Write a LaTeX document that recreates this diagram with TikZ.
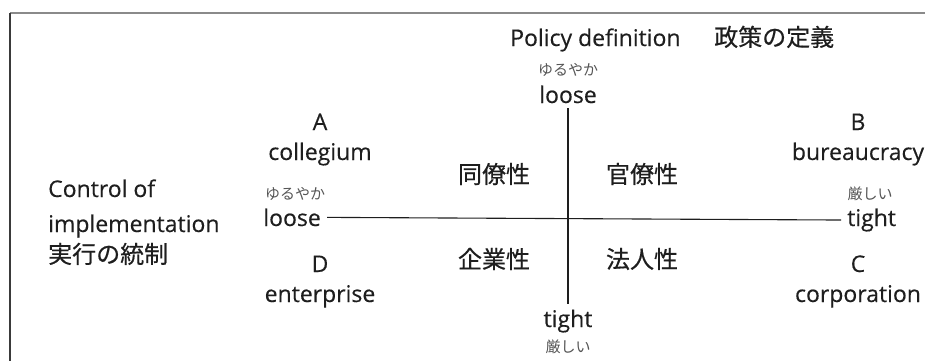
\documentclass[tikz,border=0pt]{standalone}
\usepackage{fontspec}
\setmainfont[FakeBold=0.3]{Open Sans}
\newfontfamily\jp{Noto Sans CJK JP}
\newfontfamily\jpm[FakeBold=0.5]{Noto Sans CJK JP}
\definecolor{txt}{HTML}{1E1E1E}
\definecolor{kanagray}{HTML}{555555}
\definecolor{topline}{HTML}{8A8A8A}
\definecolor{leftline}{HTML}{3A3A3A}
\begin{document}
\begin{tikzpicture}[x=1pt,y=-1pt,
  every node/.style={inner sep=0pt, text=txt},
  lat/.style={font=\fontsize{23}{27}\selectfont},
  cjk/.style={font=\jpm\fontsize{24}{28}\selectfont},
  kana/.style={font=\jp\fontsize{15}{18}\selectfont, text=kanagray},
  axis/.style={draw=txt, line width=1.1pt}]
\useasboundingbox (0,0) rectangle (925,361);
% frame
\draw[topline, line width=1.5pt] (10,13) -- (925,13);
\draw[leftline, line width=1.5pt] (10,13) -- (10,361);
% title
\node[lat, anchor=base west] (pol) at (510,46) {Policy definition};
\node[cjk, anchor=base west] (polj) at (714,46) {政策の定義};
% top
\node[kana] (tk) at (568,70) {ゆるやか};
\node[lat, anchor=base] (tl) at (568,103) {loose};
% bottom
\node[lat, anchor=base] (bt) at (568,327) {tight};
\node[kana] (bk) at (568,347) {厳しい};
% left
\node[lat, anchor=base east] (ll) at (321,226) {loose};
\node[kana] (lk) at (295,194) {ゆるやか};
% right
\node[lat, anchor=base west] (rt) at (847,226) {tight};
\node[kana] (rk) at (870,194) {厳しい};
% axes
\draw[axis] ([yshift=-5pt]tl.south) -- ([yshift=5pt]bt.north);
\draw[axis] ([xshift=6pt]ll.east) -- ([xshift=-6pt]rt.west);
% corners
\node[lat, anchor=base] (a) at (320,130) {A};
\node[lat, anchor=base] (acol) at (320,160) {collegium};
\node[lat, anchor=base] (b) at (858,130) {B};
\node[lat, anchor=base] (bbur) at (858,160) {bureaucracy};
\node[lat, anchor=base] (d) at (320,272) {D};
\node[lat, anchor=base] (dent) at (320,302) {enterprise};
\node[lat, anchor=base] (c) at (858,272) {C};
\node[lat, anchor=base] (ccor) at (858,302) {corporation};
% quadrant labels
\node[cjk] (q1) at (494,174) {同僚性};
\node[cjk] (q2) at (642,174) {官僚性};
\node[cjk] (q3) at (494,259) {企業性};
\node[cjk] (q4) at (642,259) {法人性};
% left axis label
\node[lat, anchor=base west] (ctl1) at (48,197) {Control of};
\node[lat, anchor=base west] (ctl2) at (48,232) {implementation};
\node[cjk, anchor=base west] (ctl3) at (48,263) {実行の統制};
\end{tikzpicture}
\end{document}
